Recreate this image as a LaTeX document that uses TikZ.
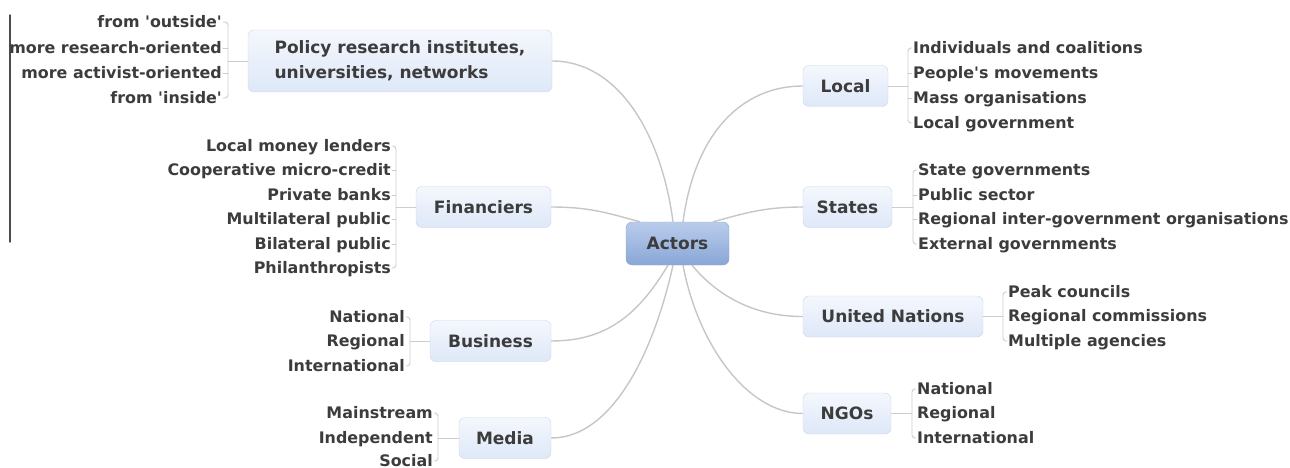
\documentclass[tikz,border=0pt]{standalone}
\usepackage{fontspec}
\setmainfont{DejaVu Sans}
\usetikzlibrary{backgrounds}
\definecolor{txtgray}{HTML}{3C3C3C}
\definecolor{boxline}{HTML}{CAD5E5}
\definecolor{boxtop}{HTML}{F4F7FD}
\definecolor{boxbot}{HTML}{DEE8F8}
\definecolor{hubline}{HTML}{8FA8D2}
\definecolor{hubtop}{HTML}{BACCEB}
\definecolor{hubbot}{HTML}{89A6D7}
\definecolor{linkgray}{HTML}{C6C6C6}
\definecolor{stemgray}{HTML}{CDCDCD}

\begin{document}
\begin{tikzpicture}[line cap=round,line join=round,x=1pt,y=-1pt,
  topic/.style={draw=boxline,top color=boxtop,bottom color=boxbot,rounded corners=6pt,
    minimum height=41pt,inner sep=0pt,text=txtgray,font=\fontsize{17}{25}\selectfont\bfseries},
  leaf/.style={inner sep=1pt,text=txtgray,text height=11.5pt,text depth=0.5pt,
    font=\fontsize{15.9}{18}\selectfont\bfseries},
  link/.style={draw=linkgray,line width=1.4pt},
  stem/.style={draw=stemgray,line width=0.9pt,rounded corners=3pt}]
\useasboundingbox (0,0) rectangle (1290,468);
\draw[line width=1.4pt,draw=black!70] (10,15) -- (10,242);
% main topics
\node[topic,minimum width=304pt,minimum height=62pt,align=left] (policy) at (400,61) {Policy research institutes,\\universities, networks};
\node[topic,minimum width=135pt] (fin) at (483.5,207) {Financiers};
\node[topic,minimum width=121pt] (bus) at (490.5,341) {Business};
\node[topic,minimum width=92pt] (media) at (505,438) {Media};
\node[topic,minimum width=85pt] (local) at (845.5,86) {Local};
\node[topic,minimum width=89pt] (states) at (847.5,207) {States};
\node[topic,minimum width=180pt] (un) at (893,316.5) {United Nations};
\node[topic,minimum width=88pt] (ngo) at (847,413.5) {NGOs};
\node[topic,draw=hubline,top color=hubtop,bottom color=hubbot,minimum width=103pt,minimum height=43pt] (actors) at (677.5,243.5) {Actors};
% links from the centre, kept under the boxes
\begin{scope}[on background layer]
\draw[link] (policy.east) .. controls +(65,0) and +(-12,-90) .. ([xshift=-4.5pt]actors.north);
\draw[link] (local.west) .. controls +(-60,0) and +(12,-90) .. ([xshift=5.5pt]actors.north);
\draw[link] (fin.east) .. controls +(40,0) and +(-30,-8) .. ([xshift=-37.5pt]actors.north);
\draw[link] (states.west) .. controls +(-40,0) and +(30,-8) .. ([xshift=35.5pt]actors.north);
\draw[link] (bus.east) .. controls +(55,0) and +(-30,50) .. ([xshift=-9.5pt]actors.south);
\draw[link] (media.east) .. controls +(60,0) and +(-20,90) .. ([xshift=-4.5pt]actors.south);
\draw[link] (un.west) .. controls +(-50,0) and +(25,30) .. ([xshift=14.5pt]actors.south);
\draw[link] (ngo.west) .. controls +(-55,0) and +(15,80) .. ([xshift=5.5pt]actors.south);
\end{scope}
% policy research
\node[leaf,anchor=east] (p1) at (223,22) {from \textquotesingle outside\textquotesingle};
\node[leaf,anchor=east] (p2) at (223,48) {more research-oriented};
\node[leaf,anchor=east] (p3) at (223,73) {more activist-oriented};
\node[leaf,anchor=east] (p4) at (223,98) {from \textquotesingle inside\textquotesingle};
\draw[stem] (p1.east) -- ++(5,0) |- (p4.east);
\draw[stem] (p2.east) -- ++(5,0);
\draw[stem] (p3.east) -- ++(5,0);
\draw[stem] (policy.west) -- ([xshift=5pt]policy.west -| p1.east);
% financiers
\node[leaf,anchor=east] (f1) at (392,146) {Local money lenders};
\node[leaf,anchor=east] (f2) at (392,170) {Cooperative micro-credit};
\node[leaf,anchor=east] (f3) at (392,195) {Private banks};
\node[leaf,anchor=east] (f4) at (392,219) {Multilateral public};
\node[leaf,anchor=east] (f5) at (392,244) {Bilateral public};
\node[leaf,anchor=east] (f6) at (392,268) {Philanthropists};
\draw[stem] (f1.east) -- ++(4,0) |- (f6.east);
\draw[stem] (f2.east) -- ++(4,0);
\draw[stem] (f3.east) -- ++(4,0);
\draw[stem] (f4.east) -- ++(4,0);
\draw[stem] (f5.east) -- ++(4,0);
\draw[stem] (fin.west) -- ([xshift=4pt]fin.west -| f1.east);
% business
\node[leaf,anchor=east] (b1) at (406,317) {National};
\node[leaf,anchor=east] (b2) at (406,341) {Regional};
\node[leaf,anchor=east] (b3) at (406,366) {International};
\draw[stem] (b1.east) -- ++(4,0) |- (b3.east);
\draw[stem] (bus.west) -- ([xshift=4pt]bus.west -| b1.east);
% media
\node[leaf,anchor=east] (m1) at (434,413) {Mainstream};
\node[leaf,anchor=east] (m2) at (434,438) {Independent};
\node[leaf,anchor=east] (m3) at (434,461) {Social};
\draw[stem] (m1.east) -- ++(4,0) |- (m3.east);
\draw[stem] (media.west) -- ([xshift=4pt]media.west -| m1.east);
% local
\node[leaf,anchor=west] (l1) at (912,48) {Individuals and coalitions};
\node[leaf,anchor=west] (l2) at (912,73) {People\textquotesingle s movements};
\node[leaf,anchor=west] (l3) at (912,98) {Mass organisations};
\node[leaf,anchor=west] (l4) at (912,123) {Local government};
\draw[stem] (l1.west) -- ++(-4,0) |- (l4.west);
\draw[stem] (l2.west) -- ++(-4,0);
\draw[stem] (l3.west) -- ++(-4,0);
\draw[stem] (local.east) -- ([xshift=-4pt]local.east -| l1.west);
% states
\node[leaf,anchor=west] (s1) at (917,170) {State governments};
\node[leaf,anchor=west] (s2) at (917,195) {Public sector};
\node[leaf,anchor=west] (s3) at (917,219) {Regional inter-government organisations};
\node[leaf,anchor=west] (s4) at (917,244) {External governments};
\draw[stem] (s1.west) -- ++(-4,0) |- (s4.west);
\draw[stem] (s2.west) -- ++(-4,0);
\draw[stem] (s3.west) -- ++(-4,0);
\draw[stem] (states.east) -- ([xshift=-4pt]states.east -| s1.west);
% united nations
\node[leaf,anchor=west] (u1) at (1007,292) {Peak councils};
\node[leaf,anchor=west] (u2) at (1007,316) {Regional commissions};
\node[leaf,anchor=west] (u3) at (1007,341) {Multiple agencies};
\draw[stem] (u1.west) -- ++(-4,0) |- (u3.west);
\draw[stem] (un.east) -- ([xshift=-4pt]un.east -| u1.west);
% ngos
\node[leaf,anchor=west] (n1) at (916,389) {National};
\node[leaf,anchor=west] (n2) at (916,413) {Regional};
\node[leaf,anchor=west] (n3) at (916,438) {International};
\draw[stem] (n1.west) -- ++(-4,0) |- (n3.west);
\draw[stem] (ngo.east) -- ([xshift=-4pt]ngo.east -| n1.west);
\end{tikzpicture}
\end{document}
